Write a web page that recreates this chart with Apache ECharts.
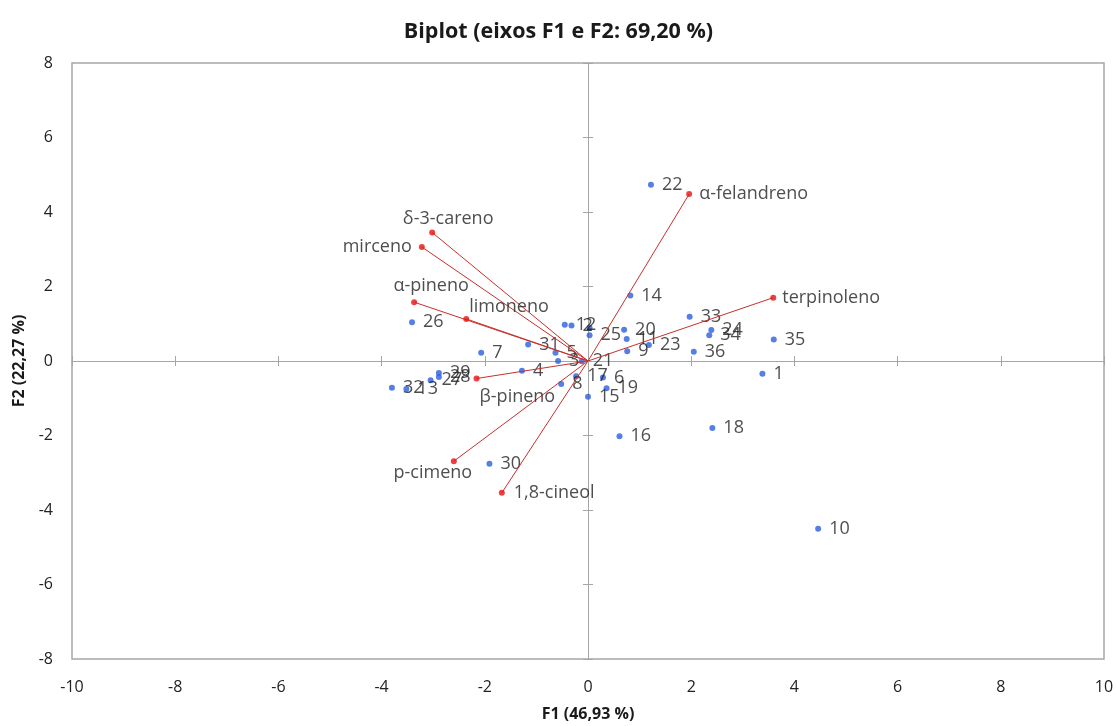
<!DOCTYPE html>
<html>
<head>
<meta charset="utf-8">
<script src="https://cdn.jsdelivr.net/npm/echarts@6.0.0/dist/echarts.min.js"></script>
<style>
html,body{margin:0;padding:0;background:#ffffff;}
#chart{width:1117px;height:726px;}
</style>
</head>
<body>
<div id="chart"></div>
<script>
// ---------------- data ----------------
const titleText = 'Biplot (eixos F1 e F2: 69,20 %)';
const xAxisName = 'F1 (46,93 %)';
const yAxisName = 'F2 (22,27 %)';
const xMin = -10, xMax = 10, xStep = 2;
const yMin = -8, yMax = 8, yStep = 2;

// observations (blue)
const obsLabels = ['1','2','3','4','5','6','7','8','9','10','11','12','13','14','15','16','17','18',
                   '19','20','21','22','23','24','25','26','27','28','29','30','31','32','33','34','35','36',''];
const obsX = [3.38,-0.32,-0.58,-1.28,-0.63,0.29,-2.07,-0.52,0.76,4.46,0.75,-0.45,-3.52,0.82,0.00,0.61,-0.23,2.41,
              0.36,0.70,-0.12,1.22,1.18,2.39,0.03,-3.41,-3.05,-2.89,-2.89,-1.91,-1.16,-3.80,1.97,2.35,3.60,2.05,0.03];
const obsY = [-0.34,0.95,0.00,-0.26,0.22,-0.44,0.22,-0.62,0.26,-4.50,0.59,0.97,-0.75,1.76,-0.96,-2.02,-0.41,-1.80,
              -0.73,0.84,-0.01,4.73,0.43,0.83,0.69,1.04,-0.52,-0.43,-0.32,-2.76,0.44,-0.72,1.19,0.69,0.58,0.25,0.89];

// variables (red)
const varNames = ['α-felandreno','terpinoleno','δ-3-careno','mirceno','α-pineno','limoneno','β-pineno','p-cimeno','1,8-cineol'];
const varX = [1.96,3.59,-3.02,-3.22,-3.37,-2.36,-2.16,-2.60,-1.67];
const varY = [4.48,1.70,3.45,3.06,1.58,1.13,-0.47,-2.69,-3.54];

// ---------------- styling ----------------
const FONT = '"Open Sans", "DejaVu Sans", sans-serif';
const TXT = '#222222';
const AXISGREY = '#a6a6a6';

const varLabelPlacement = {
  'α-felandreno': {position:'right', distance:7},
  'terpinoleno':  {position:'right', distance:6},
  'δ-3-careno':   {position:'top', distance:2, offset:[16,0]},
  'mirceno':      {position:'left', distance:7},
  'α-pineno':     {position:'top', distance:4, offset:[17,0]},
  'limoneno':     {position:'right', distance:0, offset:[0,-12]},
  'β-pineno':     {position:'right', distance:0, offset:[0,18]},
  'p-cimeno':     {position:'bottom', distance:0, offset:[-21,0]},
  '1,8-cineol':   {position:'right', distance:9}
};

const chart = echarts.init(document.getElementById('chart'), null, {renderer:'canvas'});

function zeroAxisX(pos){
  return {type:'value', min:xMin, max:xMax, interval:xStep, position:pos,
    axisLine:{show:true, onZero:true, onZeroAxisIndex:0, lineStyle:{color:AXISGREY, width:1}},
    axisTick:{show:true, length:5, lineStyle:{color:AXISGREY, width:1}},
    axisLabel:{show:false}, splitLine:{show:false}};
}
function zeroAxisY(pos){
  return {type:'value', min:yMin, max:yMax, interval:yStep, position:pos,
    axisLine:{show:true, onZero:true, onZeroAxisIndex:0, lineStyle:{color:AXISGREY, width:1}},
    axisTick:{show:true, length:5, lineStyle:{color:AXISGREY, width:1}},
    axisLabel:{show:false}, splitLine:{show:false}};
}

const option = {
  backgroundColor:'#ffffff',
  animation:false,
  textStyle:{fontFamily:FONT},
  title:{text:titleText, left:'center', top:16,
    textStyle:{fontFamily:FONT, fontSize:21.5, fontWeight:'bold', color:'#1a1a1a'}},
  grid:{left:72, right:13, top:63, bottom:67, outerBoundsMode:'none', containLabel:false,
    show:true, borderColor:AXISGREY, borderWidth:1.5, backgroundColor:'#ffffff'},
  xAxis:[
    {type:'value', min:xMin, max:xMax, interval:xStep, position:'bottom',
      axisLine:{show:false, onZero:false}, axisTick:{show:false}, splitLine:{show:false},
      axisLabel:{fontFamily:FONT, fontSize:16, color:TXT, margin:20},
      name:xAxisName, nameLocation:'middle', nameGap:47,
      nameTextStyle:{fontFamily:FONT, fontSize:16, fontWeight:'bold', color:'#1a1a1a'}},
    zeroAxisX('bottom'),
    zeroAxisX('top')
  ],
  yAxis:[
    {type:'value', min:yMin, max:yMax, interval:yStep, position:'left',
      axisLine:{show:false, onZero:false}, axisTick:{show:false}, splitLine:{show:false},
      axisLabel:{fontFamily:FONT, fontSize:16, color:TXT, margin:19},
      name:yAxisName, nameLocation:'middle', nameGap:38, nameRotate:90,
      nameTextStyle:{fontFamily:FONT, fontSize:16, fontWeight:'bold', color:'#1a1a1a'}},
    zeroAxisY('left'),
    zeroAxisY('right')
  ],
  series:[
    {
      type:'scatter', name:'obs', xAxisIndex:0, yAxisIndex:0, z:3,
      symbol:'circle', symbolSize:6,
      itemStyle:{color:'#2c5fe0'},
      label:{show:true, position:'right', distance:8, formatter:'{b}',
        fontFamily:FONT, fontSize:18, color:TXT},
      data: obsX.map((x,i)=>({name:obsLabels[i], value:[x, obsY[i]]}))
    },
    {
      type:'lines', coordinateSystem:'cartesian2d', xAxisIndex:0, yAxisIndex:0, z:4,
      lineStyle:{color:'#c8302c', width:1, opacity:1, curveness:0},
      data: varNames.map((n,i)=>({coords:[[0,0],[varX[i], varY[i]]]}))
    },
    {
      type:'scatter', name:'vars', xAxisIndex:0, yAxisIndex:0, z:5,
      symbol:'circle', symbolSize:6,
      itemStyle:{color:'#e81212'},
      label:{show:true, formatter:'{b}', fontFamily:FONT, fontSize:18, color:TXT},
      data: varNames.map((n,i)=>Object.assign({name:n, value:[varX[i], varY[i]]},
              {label:varLabelPlacement[n]}))
    }
  ]
};
chart.setOption(option);
</script>
</body>
</html>
